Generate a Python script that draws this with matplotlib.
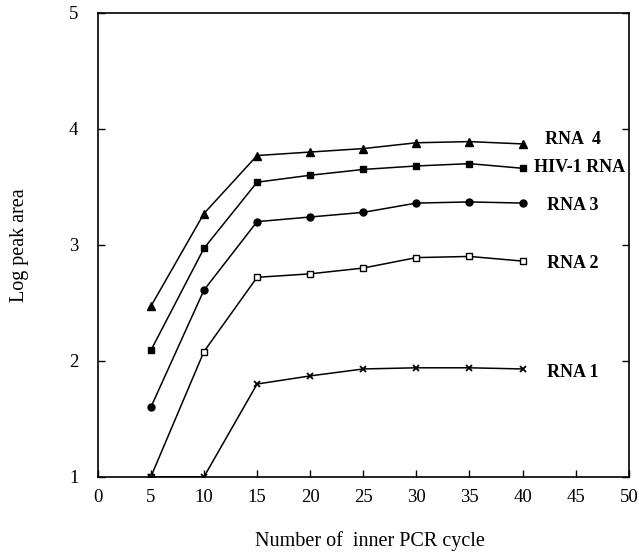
import matplotlib
matplotlib.use("Agg")
import matplotlib.pyplot as plt

plt.rcParams['font.family'] = ['Liberation Serif', 'DejaVu Serif']

cycles = [5, 10, 15, 20, 25, 30, 35, 40]
rna4 = [2.47, 3.27, 3.77, 3.80, 3.83, 3.88, 3.89, 3.87]
hiv1 = [2.09, 2.97, 3.54, 3.60, 3.65, 3.68, 3.70, 3.66]
rna3 = [1.60, 2.61, 3.20, 3.24, 3.28, 3.36, 3.37, 3.36]
rna2 = [1.00, 2.08, 2.72, 2.75, 2.80, 2.89, 2.90, 2.86]
rna1 = [1.00, 1.00, 1.80, 1.87, 1.93, 1.94, 1.94, 1.93]

labels = ["RNA  4", "HIV-1 RNA", "RNA 3", "RNA 2", "RNA 1"]
label_x = [42.1, 41.1, 42.3, 42.3, 42.3]
label_y = [3.91, 3.67, 3.34, 2.84, 1.90]

xticks = [0, 5, 10, 15, 20, 25, 30, 35, 40, 45, 50]
yticks = [1, 2, 3, 4, 5]

fig = plt.figure(figsize=(6.39, 5.59), dpi=100)
ax = fig.add_axes([0.153, 0.147, 0.831, 0.830])

ax.plot(cycles, rna4, color='black', lw=1.1, marker='^', ms=6, mfc='black', mec='black')
ax.plot(cycles, hiv1, color='black', lw=1.1, marker='s', ms=5, mfc='black', mec='black')
ax.plot(cycles, rna3, color='black', lw=1.1, marker='o', ms=5, mfc='black', mec='black')
ax.plot(cycles, rna2, color='black', lw=1.1, marker='s', ms=5, mfc='white', mec='black', mew=1.0)
ax.plot(cycles, rna1, color='black', lw=1.1, marker='x', ms=5, mec='black', mew=1.3)

for t, x, y in zip(labels, label_x, label_y):
    ax.text(x, y, t, fontsize=13, fontweight='bold', ha='left', va='center')

ax.set_xlim(0, 50)
ax.set_ylim(1, 5)
ax.set_xticks(xticks)
ax.set_yticks(yticks)
ax.tick_params(direction='in', labelsize=13.5, length=5, width=1, right=True)
ax.tick_params(axis='x', pad=9)
ax.tick_params(axis='y', pad=14)
for s in ax.spines.values():
    s.set_linewidth(1.2)

ax.set_xlabel("Number of  inner PCR cycle", fontsize=14.5)
ax.xaxis.set_label_coords(0.513, -0.118)
ax.set_ylabel("Log peak area", fontsize=14.5, labelpad=29)

fig.savefig("out.png", dpi=100)
